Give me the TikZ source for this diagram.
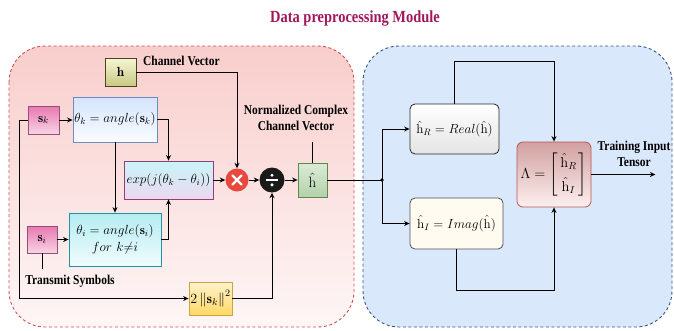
\RequirePackage{fix-cm}
\documentclass[tikz,border=0pt]{standalone}
\usepackage{amsmath}
\usepackage{fontspec}
\newfontfamily\lblfont[FakeStretch=0.85]{Liberation Serif}
\usetikzlibrary{arrows.meta}
\definecolor{ttl}{HTML}{A0185C}
\begin{document}
\begin{tikzpicture}[x=1pt,y=-1pt,
  box/.style={draw, line width=0.8pt, inner sep=1pt, align=center, font=\fontsize{13.2}{15}\selectfont},
  ln/.style={line width=1pt},
  arr/.style={line width=1pt, -{Stealth[length=5.5pt,width=5pt]}},
  lbl/.style={font=\lblfont\bfseries\fontsize{13.5}{16}\selectfont, align=center, inner sep=0pt},
  circ/.style={circle, minimum size=23pt, inner sep=0pt}
]
\useasboundingbox (0,0) rectangle (674,330);
% regions
\draw[draw={rgb,255:red,208;green,80;blue,80}, dashed, dash pattern=on 3pt off 2.5pt, line width=0.9pt,
  rounded corners=36pt, top color={rgb,255:red,248;green,206;blue,204}, bottom color={rgb,255:red,254;green,246;blue,246}]
  (9,46) rectangle (354,327);
\draw[draw={rgb,255:red,58;green,85;blue,128}, dashed, dash pattern=on 3pt off 2.5pt, line width=0.9pt,
  rounded corners=36pt, fill={rgb,255:red,218;green,232;blue,252}]
  (363,46) rectangle (672,327);
\node[font=\lblfont\bfseries\fontsize{17}{19}\selectfont, text=ttl] (title) at (355,18) {Data preprocessing Module};
% nodes
\node[box, minimum width=31pt, minimum height=28pt, draw={rgb,255:red,150;green,80;blue,120},
  top color={rgb,255:red,232;green,120;blue,176}, bottom color={rgb,255:red,248;green,212;blue,230}] (sk) at (43.5,120) {$\mathbf{s}_k$};
\node[box, minimum width=30pt, minimum height=27pt, draw={rgb,255:red,150;green,80;blue,120},
  top color={rgb,255:red,232;green,120;blue,176}, bottom color={rgb,255:red,248;green,212;blue,230}] (si) at (42,239.5) {$\mathbf{s}_i$};
\node[box, minimum width=31pt, minimum height=28pt, draw={rgb,255:red,70;green,70;blue,30},
  top color={rgb,255:red,246;green,246;blue,214}, bottom color={rgb,255:red,200;green,200;blue,130}] (h) at (120.5,72) {$\mathbf{h}$};
\node[box, minimum width=84pt, minimum height=45pt, draw={rgb,255:red,108;green,142;blue,191},
  top color={rgb,255:red,212;green,228;blue,252}, bottom color={rgb,255:red,250;green,252;blue,255}] (thk) at (115,119.5) {$\theta_k = angle(\mathbf{s}_k)$};
\node[box, minimum width=89pt, minimum height=38pt, draw={rgb,255:red,150;green,60;blue,120},
  top color={rgb,255:red,200;green,245;blue,248}, bottom color={rgb,255:red,236;green,216;blue,240}] (exp) at (168.5,180) {$exp(j(\theta_k - \theta_i))$};
\node[box, minimum width=92pt, minimum height=53pt, draw={rgb,255:red,30;green,150;blue,160},
  top color={rgb,255:red,180;green,236;blue,242}, bottom color={rgb,255:red,240;green,252;blue,253}] (thi) at (115,239.5) {$\theta_i = angle(\mathbf{s}_i)$\\[2pt] $for\ k{\neq}i$};
\node[circ, fill={rgb,255:red,232;green,72;blue,62}] (cross) at (237,180) {};
\draw[white, line width=2.2pt, line cap=round] ([shift={(-4.5,-4.5)}]cross.center) -- ([shift={(4.5,4.5)}]cross.center)
  ([shift={(-4.5,4.5)}]cross.center) -- ([shift={(4.5,-4.5)}]cross.center);
\node[circ, fill={rgb,255:red,26;green,26;blue,26}, minimum size=25pt] (div) at (272,180) {};
\draw[white, line width=2pt] ([xshift=-6pt]div.center) -- ([xshift=6pt]div.center);
\fill[white] ([yshift=-4.8pt]div.center) circle (1.7pt) ([yshift=4.8pt]div.center) circle (1.7pt);
\node[box, minimum width=29pt, minimum height=34pt, font=\fontsize{15}{17}\selectfont, draw={rgb,255:red,90;green,138;blue,74},
  top color={rgb,255:red,218;green,236;blue,214}, bottom color={rgb,255:red,180;green,208;blue,172}] (hhat) at (312.5,180) {$\hat{\mathrm{h}}$};
\node[box, minimum width=43pt, minimum height=33pt, font=\fontsize{14}{16}\selectfont, draw={rgb,255:red,200;green,166;blue,64},
  top color={rgb,255:red,255;green,242;blue,204}, bottom color={rgb,255:red,255;green,217;blue,102}] (s2) at (210.5,298.5) {$2\left\|\mathbf{s}_k\right\|^2$};
\node[box, rounded corners=5pt, minimum width=89pt, minimum height=50pt, draw={rgb,255:red,40;green,40;blue,40},
  top color=white, bottom color={rgb,255:red,228;green,228;blue,228}] (hR) at (454.5,129) {$\hat{\mathrm{h}}_R = Real(\hat{\mathrm{h}})$};
\node[box, rounded corners=5pt, minimum width=93pt, minimum height=51pt, draw={rgb,255:red,80;green,80;blue,80},
  fill={rgb,255:red,255;green,251;blue,240}] (hI) at (456.5,223.5) {$\hat{\mathrm{h}}_I = Imag(\hat{\mathrm{h}})$};
\node[box, rounded corners=6pt, minimum width=74pt, minimum height=65pt, font=\fontsize{14.5}{17}\selectfont, draw={rgb,255:red,184;green,84;blue,80},
  top color={rgb,255:red,210;green,160;blue,160}, bottom color={rgb,255:red,253;green,240;blue,240}] (lam) at (554,174.5)
  {$\Lambda = {\renewcommand{\arraystretch}{1.4}\begin{bmatrix}\,\hat{\mathrm{h}}_R\,\\ \,\hat{\mathrm{h}}_I\,\end{bmatrix}}$};
% labels
\node[lbl, anchor=west] (cv) at (143,61) {Channel Vector};
\node[lbl] (ncv) at (296,118) {Normalized Complex\\Channel Vector};
\node[lbl] (ts) at (70,281) {Transmit Symbols};
\node[lbl] (tit) at (634,154) {Training Input\\Tensor};
\coordinate (jn) at (382,180);
% connectors
\draw[arr] (h.east) -| (cross.north);
\draw[arr] (sk.east) -- (sk.east -| thk.west);
\draw[arr] (si.east) -- (si.east -| thi.west);
\draw[arr] (thk.south) -- (thi.north);
\draw[arr] (thk.east) -| (exp.north);
\draw[arr] (thi.east) -| (exp.south);
\draw[arr] (exp.east) -- (cross.west);
\draw[arr] (cross.east) -- (div.west);
\draw[arr] (div.east) -- (hhat.west);
\draw[arr] (sk.west) -- ++(-8,0) |- (s2.west);
\draw[arr] (s2.east) -| (div.south);
\draw[ln] (si.south) -- ++(0,16);
\draw[ln] (hhat.north) -- ++(0,-21);
\draw[ln] (hhat.east) -- (jn);
\fill (jn) circle (1.8pt);
\draw[arr] (jn) |- (hR.west);
\draw[arr] (jn) |- (hI.west);
\draw[arr] (hR.north) -- ++(0,-42) -| (lam.north);
\draw[arr] (hI.south) -- ++(0,41) -| (lam.south);
\draw[arr] (lam.east) -- ++(64,0);
\end{tikzpicture}
\end{document}
